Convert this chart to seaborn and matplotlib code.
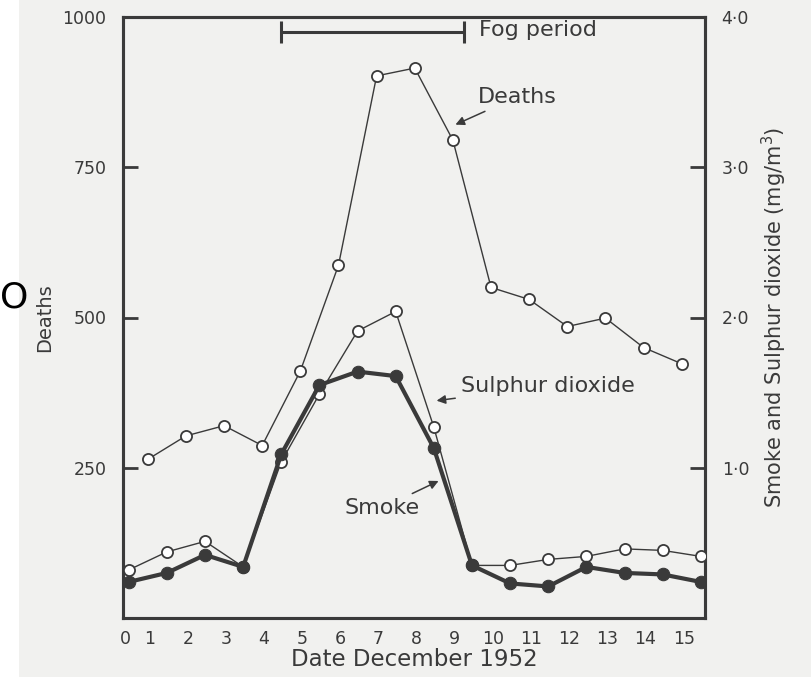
import numpy as np
import matplotlib
matplotlib.use("Agg")
import matplotlib.pyplot as plt
import seaborn as sns
from matplotlib.patches import Rectangle

# ---- data ----
# pollutant readings at day boundaries 0..15
boundary = list(range(0, 16))
smoke = [0.24, 0.30, 0.42, 0.34, 1.09, 1.55, 1.64, 1.61, 1.13, 0.35,
         0.23, 0.21, 0.34, 0.30, 0.29, 0.24]
sulphur_dioxide = [0.32, 0.44, 0.51, 0.34, 1.04, 1.49, 1.91, 2.04, 1.27, 0.35,
                   0.35, 0.39, 0.41, 0.46, 0.45, 0.41]
# daily deaths, December 1..15
death_days = list(range(1, 16))
deaths = [264, 303, 320, 287, 411, 587, 902, 915, 795, 550, 530, 485, 499, 450, 423]
date_labels = [str(d) for d in range(0, 16)]
left_ticks = [250, 500, 750, 1000]
right_ticks = [1.0, 2.0, 3.0, 4.0]
right_tick_labels = ["1·0", "2·0", "3·0", "4·0"]
fog_period = (4.0, 8.8)

ink = "#3a3a3a"
paper = "#f1f1ef"

sns.set_style("white")
plt.rcParams["font.family"] = ["DejaVu Sans"]

fig = plt.figure(figsize=(8.12, 6.77), dpi=100)
fig.patch.set_facecolor(paper)
fig.patches.append(Rectangle((0, 0), 19 / 812, 1, transform=fig.transFigure,
                             facecolor="white", edgecolor="none", zorder=0))
fig.text(0.0, 0.561, "O", fontsize=26, color="black", ha="left", va="center")

ax = fig.add_axes([123 / 812, 59 / 677, (705 - 123) / 812, (618 - 17) / 677])
ax.set_facecolor(paper)
ax2 = ax.twinx()

# deaths (left axis), plotted mid-day
deaths_x = np.array(death_days) - 0.5
sns.lineplot(x=deaths_x, y=deaths, ax=ax, color=ink, linewidth=1.0, marker="o",
             markersize=8, markerfacecolor="white", markeredgecolor=ink,
             markeredgewidth=1.3, zorder=3)

# pollutants (right axis)
sns.lineplot(x=boundary, y=sulphur_dioxide, ax=ax2, color=ink, linewidth=1.0,
             marker="o", markersize=8, markerfacecolor="white",
             markeredgecolor=ink, markeredgewidth=1.3, zorder=3)
sns.lineplot(x=boundary, y=smoke, ax=ax2, color=ink, linewidth=3.0,
             marker="o", markersize=9, markerfacecolor=ink,
             markeredgecolor=ink, zorder=4)

ax.set_xlim(-0.15, 15.11)
ax.set_ylim(0, 1000)
ax2.set_ylim(0, 4)

# y ticks
ax.set_yticks(left_ticks)
ax.set_yticklabels([str(t) for t in left_ticks], fontsize=12.5, color=ink)
ax.tick_params(axis="y", direction="in", length=11, width=2.0, color=ink, pad=12)
ax2.set_yticks(right_ticks)
ax2.set_yticklabels(right_tick_labels, fontsize=12.5, color=ink)
ax2.tick_params(axis="y", direction="in", length=11, width=2.0, color=ink, pad=12)

# x ticks: marks at day boundaries, labels mid-day
label_pos = [-0.08] + [d - 0.45 for d in range(1, 16)]
ax.set_xticks(label_pos)
ax.set_xticklabels(date_labels, fontsize=12.5, color=ink)
ax.tick_params(axis="x", which="major", length=0, pad=9)
ax.set_xticks(boundary[1:15], minor=True)
ax.tick_params(axis="x", which="minor", direction="in", length=10, width=2.0, color=ink)

for a in (ax, ax2):
    for s in a.spines.values():
        s.set_color(ink)
        s.set_linewidth(2.2)

ax.set_xlabel("Date December 1952", fontsize=16.5, color=ink, labelpad=0)
ax.set_ylabel("Deaths", fontsize=14, color=ink, labelpad=6)
ax2.set_ylabel("Smoke and Sulphur dioxide (mg/m$^3$)", fontsize=15, color=ink, labelpad=8)

# fog period bar
ax.plot(list(fog_period), [975, 975], color=ink, linewidth=2.2, marker="|",
        markersize=16, markeredgewidth=2.2)
ax.text(fog_period[1] + 0.38, 978, "Fog period", fontsize=16, color=ink,
        ha="left", va="center")

arrow = dict(arrowstyle="-|>", color=ink, lw=1.1, mutation_scale=13)
ax.annotate("Deaths", xy=(8.5, 819), xytext=(10.18, 867), fontsize=16, color=ink,
            ha="center", va="center", arrowprops=arrow)
ax.annotate("Sulphur dioxide", xy=(8.0, 361), xytext=(8.72, 386), fontsize=16,
            color=ink, ha="left", va="center", arrowprops=arrow)
ax.annotate("Smoke", xy=(8.19, 230), xytext=(6.64, 183), fontsize=16, color=ink,
            ha="center", va="center", arrowprops=arrow)

fig.savefig("out.png", dpi=100, facecolor=fig.get_facecolor())
